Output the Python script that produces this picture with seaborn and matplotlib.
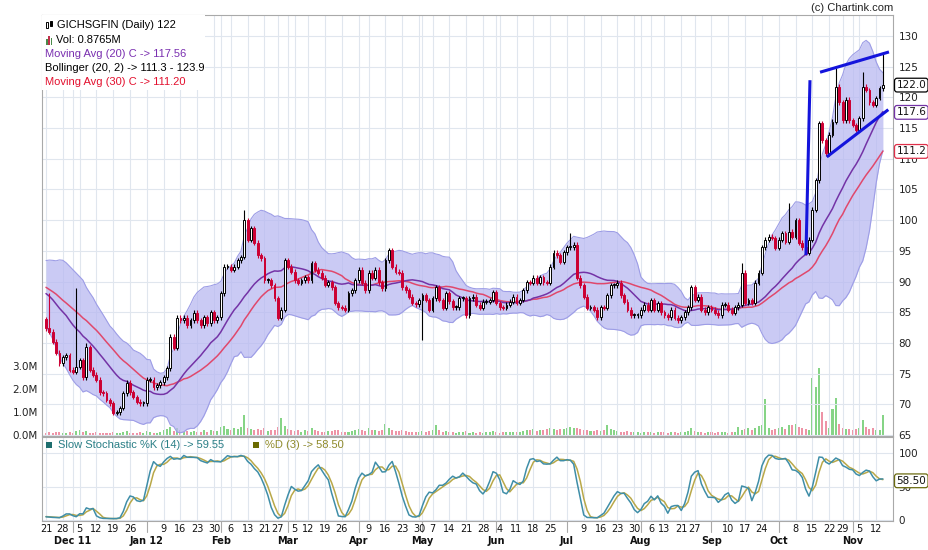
import numpy as np
import pandas as pd
import matplotlib
matplotlib.use("Agg")
import matplotlib.pyplot as plt
import matplotlib.transforms as mtransforms
from matplotlib.patches import Rectangle
import seaborn as sns

# ---------------- values ----------------
# days with no bar in the feed (they show up as gaps in the week labels)
holidays = ["2012-02-20", "2012-03-09", "2012-04-05", "2012-04-06", "2012-05-01",
            "2012-08-09", "2012-08-20", "2012-10-26", "2012-11-13"]

# a few closes before 21 Nov 2011, guessed from where the MA / Bollinger lines enter the chart
pre_close = [92.5, 91.0, 90.2, 91.8, 92.6, 91.4, 90.0, 89.6, 91.2, 90.7,
             90.5, 91.6, 92.0, 90.8, 89.4, 90.1, 91.3, 90.2, 88.6, 87.5,
             87.9, 88.8, 87.2, 86.3, 86.8, 85.9, 85.0, 84.6, 83.9]

# daily close 21 Nov 2011 .. 15 Nov 2012
close = [82.4, 81.8, 80.2, 78.4, 76.7, 77.7, 78.0, 75.6, 75.3, 76.1,
         77.2, 74.4, 79.3, 75.6, 74.8, 74.0, 72.0, 71.8, 70.7, 70.2,
         68.6, 68.7, 69.4, 71.8, 73.5, 72.0, 71.2, 70.4, 70.2, 70.2,
         74.0, 74.0, 72.8, 73.1, 73.6, 74.4, 75.9, 81.0, 79.2, 84.1,
         83.7, 84.1, 82.9, 83.7, 84.9, 83.7, 82.9, 84.2, 83.2, 85.0,
         83.7, 84.2, 88.1, 92.4, 92.4, 91.9, 92.4, 93.5, 94.0, 100.0,
         96.8, 98.7, 96.3, 94.3, 93.8, 90.2, 90.2, 89.4, 87.3, 84.1,
         85.4, 93.5, 92.4, 91.6, 90.2, 89.8, 90.2, 90.7, 90.2, 93.0,
         91.9, 91.4, 90.6, 89.5, 89.9, 89.1, 86.5, 85.8, 85.7, 85.4,
         88.1, 88.6, 90.2, 91.9, 89.8, 88.6, 91.4, 90.6, 91.9, 89.9,
         88.9, 93.5, 95.1, 92.4, 91.6, 91.4, 89.1, 88.6, 87.5, 86.5,
         86.3, 87.0, 87.8, 87.0, 85.4, 87.3, 89.1, 87.0, 85.7, 88.1,
         86.8, 85.8, 85.8, 87.3, 87.3, 84.5, 87.3, 87.5, 86.2, 85.7,
         86.7, 86.7, 87.0, 88.3, 86.5, 85.8, 85.7, 86.2, 86.7, 87.5,
         86.5, 87.0, 88.6, 89.9, 89.8, 90.6, 89.8, 90.7, 89.9, 89.8,
         92.4, 94.7, 94.3, 93.2, 94.8, 95.6, 95.6, 96.0, 90.6, 89.4,
         87.5, 85.7, 85.8, 85.4, 84.2, 85.8, 85.7, 87.8, 89.4, 89.4,
         89.8, 87.8, 86.7, 85.4, 84.5, 84.5, 84.5, 85.4, 86.2, 85.4,
         87.0, 85.4, 86.5, 85.0, 84.5, 84.2, 85.4, 84.1, 83.7, 84.2,
         85.0, 85.8, 89.1, 87.0, 87.5, 85.4, 85.0, 85.8, 85.4, 84.9,
         84.5, 86.2, 86.2, 85.4, 84.9, 85.8, 86.2, 91.4, 86.5, 87.0,
         86.5, 89.8, 91.4, 95.6, 96.8, 97.3, 97.1, 95.5, 96.8, 97.9,
         96.5, 98.1, 97.3, 100.0, 96.3, 95.6, 94.7, 96.8, 101.7, 106.5,
         115.8, 113.0, 110.9, 113.9, 116.0, 121.7, 119.2, 116.3, 119.6, 116.3,
         115.5, 114.7, 116.6, 121.7, 121.2, 119.2, 118.8, 119.9, 121.5, 122.0]

# long wicks that stick out (day index -> price)
wick_high = {1: 88.1, 9: 89.0, 12: 80.0, 59: 101.7, 156: 97.9, 207: 93.0,
             221: 102.8, 235: 124.8, 243: 124.1, 249: 127.4}
wick_low = {112: 80.5}

# volume, millions
volume_m = [0.10, 0.12, 0.09, 0.11, 0.13, 0.10, 0.08, 0.12, 0.10, 0.18,
            0.20, 0.12, 0.16, 0.10, 0.09, 0.11, 0.10, 0.09, 0.08, 0.10,
            0.12, 0.10, 0.09, 0.14, 0.18, 0.10, 0.08, 0.09, 0.11, 0.10,
            0.16, 0.12, 0.10, 0.09, 0.12, 0.22, 0.28, 0.35, 0.18, 0.30,
            0.20, 0.14, 0.16, 0.12, 0.18, 0.14, 0.12, 0.20, 0.15, 0.22,
            0.18, 0.16, 0.35, 0.40, 0.25, 0.20, 0.30, 0.28, 0.35, 0.86,
            0.30, 0.28, 0.22, 0.25, 0.20, 0.30, 0.18, 0.20, 0.22, 0.35,
            0.76, 0.38, 0.25, 0.20, 0.18, 0.22, 0.15, 0.20, 0.16, 0.30,
            0.22, 0.18, 0.15, 0.14, 0.16, 0.18, 0.22, 0.20, 0.15, 0.12,
            0.14, 0.16, 0.20, 0.28, 0.22, 0.18, 0.30, 0.20, 0.22, 0.18,
            0.20, 0.50, 0.30, 0.22, 0.18, 0.16, 0.20, 0.18, 0.14, 0.12,
            0.12, 0.14, 0.18, 0.14, 0.16, 0.20, 0.43, 0.22, 0.14, 0.18,
            0.12, 0.12, 0.10, 0.14, 0.12, 0.16, 0.10, 0.12, 0.10, 0.12,
            0.10, 0.12, 0.14, 0.16, 0.12, 0.10, 0.12, 0.11, 0.12, 0.14,
            0.12, 0.13, 0.18, 0.22, 0.20, 0.24, 0.18, 0.20, 0.22, 0.25,
            0.30, 0.28, 0.22, 0.24, 0.26, 0.30, 0.34, 0.30, 0.32, 0.26,
            0.22, 0.20, 0.16, 0.18, 0.20, 0.18, 0.22, 0.43, 0.28, 0.20,
            0.16, 0.15, 0.14, 0.16, 0.12, 0.14, 0.12, 0.10, 0.12, 0.14,
            0.12, 0.10, 0.12, 0.11, 0.12, 0.10, 0.12, 0.11, 0.10, 0.12,
            0.14, 0.18, 0.29, 0.16, 0.14, 0.12, 0.10, 0.12, 0.11, 0.10,
            0.12, 0.14, 0.12, 0.10, 0.12, 0.14, 0.33, 0.20, 0.25, 0.30,
            0.22, 0.32, 0.40, 0.43, 1.57, 0.30, 0.22, 0.26, 0.30, 0.35,
            0.28, 0.45, 0.42, 0.47, 0.35, 0.30, 0.25, 0.22, 2.50, 2.07,
            2.90, 1.00, 0.60, 0.30, 1.14, 1.60, 0.50, 0.30, 0.25, 0.28,
            0.22, 0.26, 0.30, 0.64, 0.35, 0.25, 0.30, 0.22, 0.20, 0.8765]

week_ticks = [("2011-11-21", "21"), ("2011-11-28", "28"), ("2011-12-05", "5"), ("2011-12-12", "12"),
              ("2011-12-19", "19"), ("2011-12-26", "26"), ("2012-01-09", "9"), ("2012-01-16", "16"),
              ("2012-01-23", "23"), ("2012-01-30", "30"), ("2012-02-06", "6"), ("2012-02-13", "13"),
              ("2012-02-21", "21"), ("2012-02-27", "27"), ("2012-03-05", "5"), ("2012-03-12", "12"),
              ("2012-03-19", "19"), ("2012-03-26", "26"), ("2012-04-09", "9"), ("2012-04-16", "16"),
              ("2012-04-23", "23"), ("2012-04-30", "30"), ("2012-05-07", "7"), ("2012-05-14", "14"),
              ("2012-05-21", "21"), ("2012-05-28", "28"), ("2012-06-04", "4"), ("2012-06-11", "11"),
              ("2012-06-18", "18"), ("2012-06-25", "25"), ("2012-07-09", "9"), ("2012-07-16", "16"),
              ("2012-07-23", "23"), ("2012-07-30", "30"), ("2012-08-06", "6"), ("2012-08-13", "13"),
              ("2012-08-21", "21"), ("2012-08-27", "27"), ("2012-09-10", "10"), ("2012-09-17", "17"),
              ("2012-09-24", "24"), ("2012-10-08", "8"), ("2012-10-15", "15"), ("2012-10-22", "22"),
              ("2012-10-29", "29"), ("2012-11-05", "5"), ("2012-11-12", "12")]
month_ticks = [("2011-12-01", "Dec 11"), ("2012-01-02", "Jan 12"), ("2012-02-01", "Feb"),
               ("2012-03-01", "Mar"), ("2012-04-02", "Apr"), ("2012-05-01", "May"),
               ("2012-06-01", "Jun"), ("2012-07-02", "Jul"), ("2012-08-01", "Aug"),
               ("2012-09-03", "Sep"), ("2012-10-01", "Oct"), ("2012-11-01", "Nov")]

# hand drawn blue lines: (day, price) end points
trend_lines = [[(226.1, 94.3), (227.3, 122.8)],
               [(230.3, 124.1), (250.8, 127.4)],
               [(232.3, 110.3), (250.6, 118.0)]]

# ---------------- indicators ----------------
n_pre = len(pre_close)
c_all = pd.Series(pre_close + close, dtype=float)
o_all = c_all.shift(1).fillna(c_all.iloc[0])
hi_all = np.maximum(o_all, c_all) + 0.4
lo_all = np.minimum(o_all, c_all) - 0.4
for d, v in wick_high.items():
    hi_all[n_pre + d] = v
for d, v in wick_low.items():
    lo_all[n_pre + d] = v

ma20 = c_all.rolling(20).mean()
ma30 = c_all.rolling(30).mean()
sd20 = c_all.rolling(20).std(ddof=0)
bb_up = ma20 + 2 * sd20
bb_dn = ma20 - 2 * sd20

ll = lo_all.rolling(14, min_periods=1).min()
hh = hi_all.rolling(14, min_periods=1).max()
fast_k = 100 * (c_all - ll) / (hh - ll)
slow_k = fast_k.rolling(3, min_periods=1).mean()
slow_d = slow_k.rolling(3, min_periods=1).mean()

dates = pd.bdate_range("2011-11-21", "2012-11-15")
dates = dates[~dates.isin(pd.to_datetime(holidays))]

df = pd.DataFrame({
    "x": np.arange(len(close)),
    "open": o_all[n_pre:].values, "close": c_all[n_pre:].values,
    "high": hi_all[n_pre:].values, "low": lo_all[n_pre:].values,
    "ma20": ma20[n_pre:].values, "ma30": ma30[n_pre:].values,
    "bb_up": bb_up[n_pre:].values, "bb_dn": bb_dn[n_pre:].values,
    "k": slow_k[n_pre:].values, "d": slow_d[n_pre:].values,
    "vol": volume_m,
})

def pos(d):
    return dates.searchsorted(pd.Timestamp(d))

week_pos = [pos(d) for d, _ in week_ticks]
month_pos = [pos(d) for d, _ in month_ticks]

# ---------------- figure ----------------
sns.set_theme(style="white")
plt.rcParams["font.family"] = ["DejaVu Sans"]

W, H = 929, 550
fig = plt.figure(figsize=(W / 100, H / 100), dpi=100)

def fbox(x0, y0, x1, y1):
    return [x0 / W, 1 - y1 / H, (x1 - x0) / W, (y1 - y0) / H]

ax = fig.add_axes(fbox(42, 15, 893, 436))
axv = ax.twinx()
ax_s = fig.add_axes(fbox(42, 437, 893, 521))

ax.set_zorder(2)
axv.set_zorder(1)
ax.patch.set_visible(False)
axv.patch.set_visible(True)
axv.patch.set_facecolor("white")

grid_c = "#e0e6ee"
spine_c = "#a9a9a9"
xlim = (-1.19, 252.0)

# volume
up_day = df["close"] >= df["open"]
axv.bar(df["x"], df["vol"], width=0.6, color=np.where(up_day, "#86d486", "#ee93a6"), linewidth=0)
axv.set_ylim(-0.043, 18.26)
axv.set_yticks([0, 1, 2, 3])
axv.set_yticklabels(["0.0M", "1.0M", "2.0M", "3.0M"])
axv.yaxis.tick_left()
axv.tick_params(axis="y", length=0, pad=3, labelsize=7.5, labelcolor="#222222")
for s in axv.spines.values():
    s.set_visible(False)

# grid + bollinger band
ax.set_axisbelow(True)
ax.set_xticks(sorted(set(week_pos + month_pos)))
ax.set_xticklabels([])
ax.grid(True, color=grid_c, lw=0.8)
ax.fill_between(df["x"], df["bb_dn"], df["bb_up"], color="#b9b9f1", alpha=0.75, lw=0, zorder=1)
ax.plot(df["x"], df["bb_up"], color="#9d9de6", lw=0.8, zorder=1.5)
ax.plot(df["x"], df["bb_dn"], color="#9d9de6", lw=0.8, zorder=1.5)

sns.lineplot(data=df, x="x", y="ma30", ax=ax, color="#e0486c", lw=1.1, legend=False, zorder=3)
sns.lineplot(data=df, x="x", y="ma20", ax=ax, color="#7433a6", lw=1.1, legend=False, zorder=3)

# candles
body_lo = df[["open", "close"]].min(axis=1)
body_hi = df[["open", "close"]].max(axis=1)
body_h = (body_hi - body_lo).clip(lower=0.15)
wick_c = np.where(up_day, "black", "#cc0033")
ax.vlines(df["x"], body_hi, df["high"], colors=wick_c, lw=0.8, zorder=4)
ax.vlines(df["x"], df["low"], body_lo, colors=wick_c, lw=0.8, zorder=4)
ax.bar(df["x"][up_day], body_h[up_day], bottom=body_lo[up_day], width=0.55,
       facecolor="white", edgecolor="black", linewidth=0.7, zorder=5)
ax.bar(df["x"][~up_day], body_h[~up_day], bottom=body_lo[~up_day], width=0.55,
       facecolor="#cc0033", edgecolor="#cc0033", linewidth=0.7, zorder=5)

for (x0, y0), (x1, y1) in trend_lines:
    ax.plot([x0, x1], [y0, y1], color="#1414dc", lw=2.2, zorder=6, clip_on=False, solid_capstyle="butt")

ax.set_ylim(64.84, 133.42)
ax.set_yticks(range(65, 131, 5))
ax.yaxis.tick_right()
ax.tick_params(axis="y", length=0, pad=4, labelsize=7.5, labelcolor="#222222")
ax.tick_params(axis="x", length=0)
ax.set_xlabel("")
ax.set_ylabel("")
ax.set_xlim(*xlim)
for s in ax.spines.values():
    s.set_color(spine_c)
    s.set_linewidth(0.8)

# legend box top-left
ax.add_patch(Rectangle((0, 0.822), 0.1915, 0.178, transform=ax.transAxes,
                       facecolor="white", edgecolor="none", zorder=7))

def ftxt(px, py, s, **kw):
    return fig.text(px / W, 1 - py / H, s, va="center", ha="left", zorder=10, **kw)

leg_font = dict(family="Liberation Sans", fontsize=8)
ftxt(57, 25, "GICHSGFIN (Daily) 122", color="black", **leg_font)
ftxt(56, 40, "Vol: 0.8765M", color="black", **leg_font)
ftxt(45, 54, "Moving Avg (20) C -> 117.56", color="#7a2fb0", **leg_font)
ftxt(45, 68, "Bollinger (20, 2) -> 111.3 - 123.9", color="black", **leg_font)
ftxt(45, 82, "Moving Avg (30) C -> 111.20", color="#e3102e", **leg_font)
fig.text(893 / W, 1 - 8 / H, "(c) Chartink.com", ha="right", va="center", color="#222222", **leg_font)

# little icons in front of the first two legend lines
def fpatch(x0, y0, x1, y1, **kw):
    fig.add_artist(Rectangle((x0 / W, 1 - y1 / H), (x1 - x0) / W, (y1 - y0) / H,
                             transform=fig.transFigure, zorder=11, **kw))

fpatch(46, 22, 48, 28, facecolor="white", edgecolor="black", lw=0.7)
fpatch(50, 21, 52, 26, facecolor="black", edgecolor="black", lw=0.7)
fpatch(46, 39, 47.6, 45, facecolor="#4a8a4a", edgecolor="none")
fpatch(48.4, 36, 50, 45, facecolor="#c0304a", edgecolor="none")
fpatch(50.8, 38, 52.4, 45, facecolor="#4a8a4a", edgecolor="none")

# last-value boxes on the right
blend = mtransforms.blended_transform_factory(ax.transAxes, ax.transData)
for val, txt, ec in [(122.0, "122.0", "black"), (117.56, "117.6", "#7433a6"), (111.2, "111.2", "#e0304a")]:
    ax.text(1.004, val, txt, transform=blend, ha="left", va="center", fontsize=7.5, color="#111111",
            clip_on=False, zorder=12,
            bbox=dict(boxstyle="round,pad=0.18,rounding_size=0.25", fc="white", ec=ec, lw=0.9))

# ---------------- stochastic panel ----------------
ax_s.set_axisbelow(True)
sns.lineplot(data=df, x="x", y="d", ax=ax_s, color="#b9a848", lw=1.1, legend=False)
sns.lineplot(data=df, x="x", y="k", ax=ax_s, color="#3f8ea8", lw=1.1, legend=False)
ax_s.set_xlim(*xlim)
ax_s.set_ylim(-1.5, 123.9)
ax_s.set_yticks([0, 50, 100])
ax_s.yaxis.tick_right()
ax_s.tick_params(axis="y", length=0, pad=4, labelsize=7.5, labelcolor="#222222")
ax_s.set_xticks(sorted(set(week_pos + month_pos)))
ax_s.set_xticklabels([])
ax_s.tick_params(axis="x", length=0)
ax_s.grid(True, color=grid_c, lw=0.8)
ax_s.set_xlabel("")
ax_s.set_ylabel("")
for s in ax_s.spines.values():
    s.set_color(spine_c)
    s.set_linewidth(0.8)

blend_s = mtransforms.blended_transform_factory(ax_s.transAxes, ax_s.transData)
ax_s.text(1.004, 58.5, "58.50", transform=blend_s, ha="left", va="center", fontsize=7.5, color="#111111",
          clip_on=False, zorder=12,
          bbox=dict(boxstyle="round,pad=0.18,rounding_size=0.25", fc="white", ec="#6b6b10", lw=0.9))

fpatch(46, 442, 52, 448, facecolor="#1e6e6e", edgecolor="none")
ftxt(58, 445, "Slow Stochastic %K (14) -> 59.55", color="#2a7f86", **leg_font)
fpatch(253, 442, 259, 448, facecolor="#6b6b00", edgecolor="none")
ftxt(265, 445, "%D (3) -> 58.50", color="#8f8a2a", **leg_font)

# x labels: week days + month names
xlab = mtransforms.blended_transform_factory(ax_s.transData, fig.transFigure)
for p, (_, lab) in zip(week_pos, week_ticks):
    ax_s.text(p, 1 - 529.5 / H, lab, transform=xlab, ha="center", va="center", fontsize=7, color="#111111")
for p, (_, lab) in zip(month_pos, month_ticks):
    ax_s.text(p, 1 - 541 / H, lab, transform=xlab, ha="center", va="center", fontsize=7,
              fontweight="bold", color="#111111")
    ax_s.plot([p, p], [1 - 521 / H, 1 - 532 / H], transform=xlab, color=spine_c, lw=0.8, clip_on=False)

fig.savefig("out.png", dpi=100, facecolor="white")
